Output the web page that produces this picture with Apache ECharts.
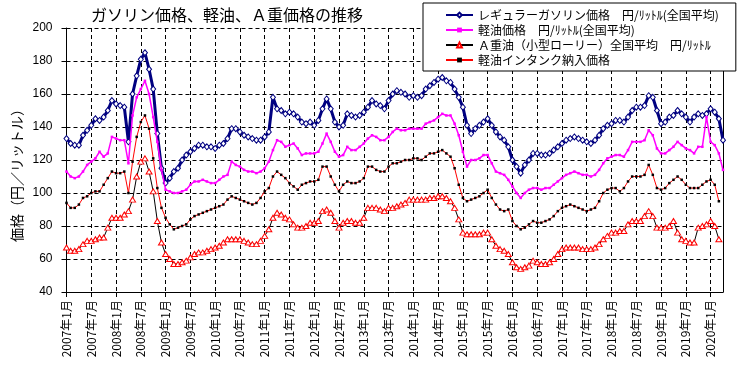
<!DOCTYPE html>
<html><head><meta charset="utf-8">
<script src="https://cdn.jsdelivr.net/npm/echarts@6/dist/echarts.min.js"></script>
<style>html,body{margin:0;padding:0;background:#fff}#c{width:744px;height:369px}</style>
</head><body><div id="c"></div>
<script>
var startYear = 2007, monthCount = 160;
var gasoline = [133,130,129,129,135,138,141,145,144,146,150,156,154,153,152,131,160,171,181,185,175,163,136,115,106,109,113,115,120,123,125,127,129,129,128,128,127,129,130,133,139,139,137,135,134,133,132,132,134,137,158,151,150,148,149,148,146,143,142,143,141,144,151,157,151,143,140,141,148,147,146,147,149,152,156,154,153,151,156,160,162,161,160,158,159,158,159,163,165,167,169,170,168,167,163,158,152,141,136,139,141,143,145,141,137,134,132,128,120,116,112,117,120,124,124,123,123,124,126,128,130,132,133,134,133,132,131,130,132,135,139,141,142,144,144,143,146,150,152,152,153,159,158,150,142,143,146,147,150,148,146,143,146,148,147,148,151,149,145,132];
var diesel = [113,110,109,110,113,117,119,121,125,122,124,134,133,132,132,118,147,158,163,168,160,146,131,114,102,101,100,100,101,102,105,107,107,108,107,106,106,108,110,111,119,117,116,114,113,113,112,113,115,119,126,132,131,128,129,130,127,123,124,124,124,125,130,136,131,125,122,123,128,126,126,128,130,133,135,134,132,132,134,137,139,138,138,139,139,139,139,142,143,144,146,148,147,147,142,135,125,116,120,120,121,123,123,118,113,112,111,108,104,100,97,100,102,103,103,102,103,103,105,107,109,111,112,113,112,111,111,110,111,114,118,121,122,123,123,122,126,131,131,131,132,138,135,127,124,124,126,128,131,129,127,126,124,128,128,146,131,129,124,114];
var heavyOilA = [67,65,65,66,69,71,71,72,73,73,79,85,85,85,87,89,96,110,119,121,113,101,83,70,63,60,57,57,58,59,61,63,64,64,65,66,67,68,70,72,72,72,72,71,70,69,69,71,74,78,85,88,87,85,84,81,79,79,80,82,82,83,89,90,88,83,79,82,83,83,82,82,85,91,91,91,90,89,91,91,92,93,94,96,96,96,96,96,97,97,98,98,97,95,91,84,76,75,75,75,75,76,76,72,68,66,65,63,58,55,54,55,56,59,58,57,57,58,60,63,66,67,67,67,67,66,66,66,67,69,72,74,76,76,77,77,81,83,83,83,86,89,86,79,79,79,80,83,76,72,71,70,70,79,80,81,83,80,72];
var inTank = [94,91,91,93,97,98,100,101,101,105,109,113,112,112,113,100,119,134,143,147,139,121,103,91,85,81,78,79,80,81,84,86,87,88,89,90,91,92,93,96,98,97,96,95,94,93,94,97,101,103,110,113,111,109,106,104,102,105,106,107,107,108,116,116,110,105,101,105,107,106,106,107,109,116,116,114,113,113,116,118,118,119,120,120,121,121,120,122,124,124,125,126,124,122,115,105,97,95,96,97,98,100,102,97,93,90,89,90,83,80,78,79,81,83,82,82,83,84,86,89,91,92,93,92,91,90,89,90,91,95,100,102,103,103,101,103,107,110,110,110,111,117,111,103,102,103,106,108,110,108,105,103,103,103,105,107,108,105,95];
var seriesNames = ['レギュラーガソリン価格　円/ﾘｯﾄﾙ(全国平均)','軽油価格　円/ﾘｯﾄﾙ(全国平均)','Ａ重油（小型ローリー）全国平均　円/ﾘｯﾄﾙ','軽油インタンク納入価格'];
var titleText = 'ガソリン価格、軽油、Ａ重価格の推移';
var yAxisName = '価格（円／リットル）';

var categories = [];
for (var i = 0; i < monthCount; i++) {
  categories.push((startYear + Math.floor(i / 12)) + '年' + (i % 12 + 1) + '月');
}
var FF = '"Noto Sans CJK JP", "Noto Sans", sans-serif';
var chart = echarts.init(document.getElementById('c'), null, {renderer: 'canvas'});
chart.setOption({
  animation: false,
  backgroundColor: '#fff',
  title: {text: titleText, left: 86, top: 2, textStyle: {fontSize: 16, fontWeight: 'normal', color: '#000', fontFamily: FF}},
  legend: {
    orient: 'vertical', left: 423, top: 3, padding: [6, 17, 5, 22],
    itemWidth: 27, itemHeight: 6, itemGap: 3,
    backgroundColor: '#fff', borderColor: '#000', borderWidth: 1, borderRadius: 0,
    textStyle: {fontSize: 12, color: '#000', fontFamily: FF, padding: [1, 0, 0, 0]}, z: 10,
    data: seriesNames
  },
  grid: {left: 66.5, right: 21, top: 28, bottom: 77},
  graphic: [{type: 'text', x: 17, y: 172, rotation: Math.PI / 2, style: {text: yAxisName, fontSize: 14, fill: '#000', align: 'center', verticalAlign: 'middle', fontFamily: FF}}],
  xAxis: {
    type: 'category', data: categories, boundaryGap: false,
    axisLine: {lineStyle: {color: '#000', width: 1}},
    axisTick: {interval: 5, length: 5, lineStyle: {color: '#000'}},
    axisLabel: {interval: 5, rotate: 90, fontSize: 12, color: '#000', margin: 8, fontFamily: FF},
    splitLine: {show: true, interval: 5, lineStyle: {color: '#000', type: [4, 3], width: 1}}
  },
  yAxis: [{
    type: 'value', min: 40, max: 200, interval: 20,
    axisLine: {show: true, lineStyle: {color: '#000'}},
    axisTick: {show: true, length: 5, lineStyle: {color: '#000'}},
    axisLabel: {fontSize: 12, color: '#000', margin: 14, fontFamily: '"Liberation Sans", Arial, sans-serif'},
    splitLine: {show: true, lineStyle: {color: '#000', type: [4, 3], width: 1}}
  }, {
    type: 'value', min: 40, max: 200, interval: 20, position: 'right',
    axisLine: {show: true, lineStyle: {color: '#000'}},
    axisTick: {show: false}, axisLabel: {show: false}, splitLine: {show: false}
  }],
  series: [
    {name: seriesNames[0], type: 'line', data: gasoline, showAllSymbol: true, symbol: 'diamond', symbolSize: [5, 6],
     lineStyle: {color: '#000080', width: 3}, itemStyle: {color: '#fff', borderColor: '#000080', borderWidth: 1}, z: 2},
    {name: seriesNames[1], type: 'line', data: diesel, showAllSymbol: true, symbol: 'rect', symbolSize: 2.5,
     lineStyle: {color: '#FF00FF', width: 1.5}, itemStyle: {color: '#FF00FF', borderWidth: 0}, z: 3},
    {name: seriesNames[2], type: 'line', data: heavyOilA, showAllSymbol: true, symbol: 'triangle', symbolSize: [6, 5],
     lineStyle: {color: '#000', width: 1}, itemStyle: {color: '#fff', borderColor: '#FF0000', borderWidth: 1}, z: 4},
    {name: seriesNames[3], type: 'line', data: inTank, showAllSymbol: true, symbol: 'rect', symbolSize: 2.5,
     lineStyle: {color: '#FF0000', width: 1}, itemStyle: {color: '#000', borderWidth: 0}, z: 5}
  ]
});
</script></body></html>
